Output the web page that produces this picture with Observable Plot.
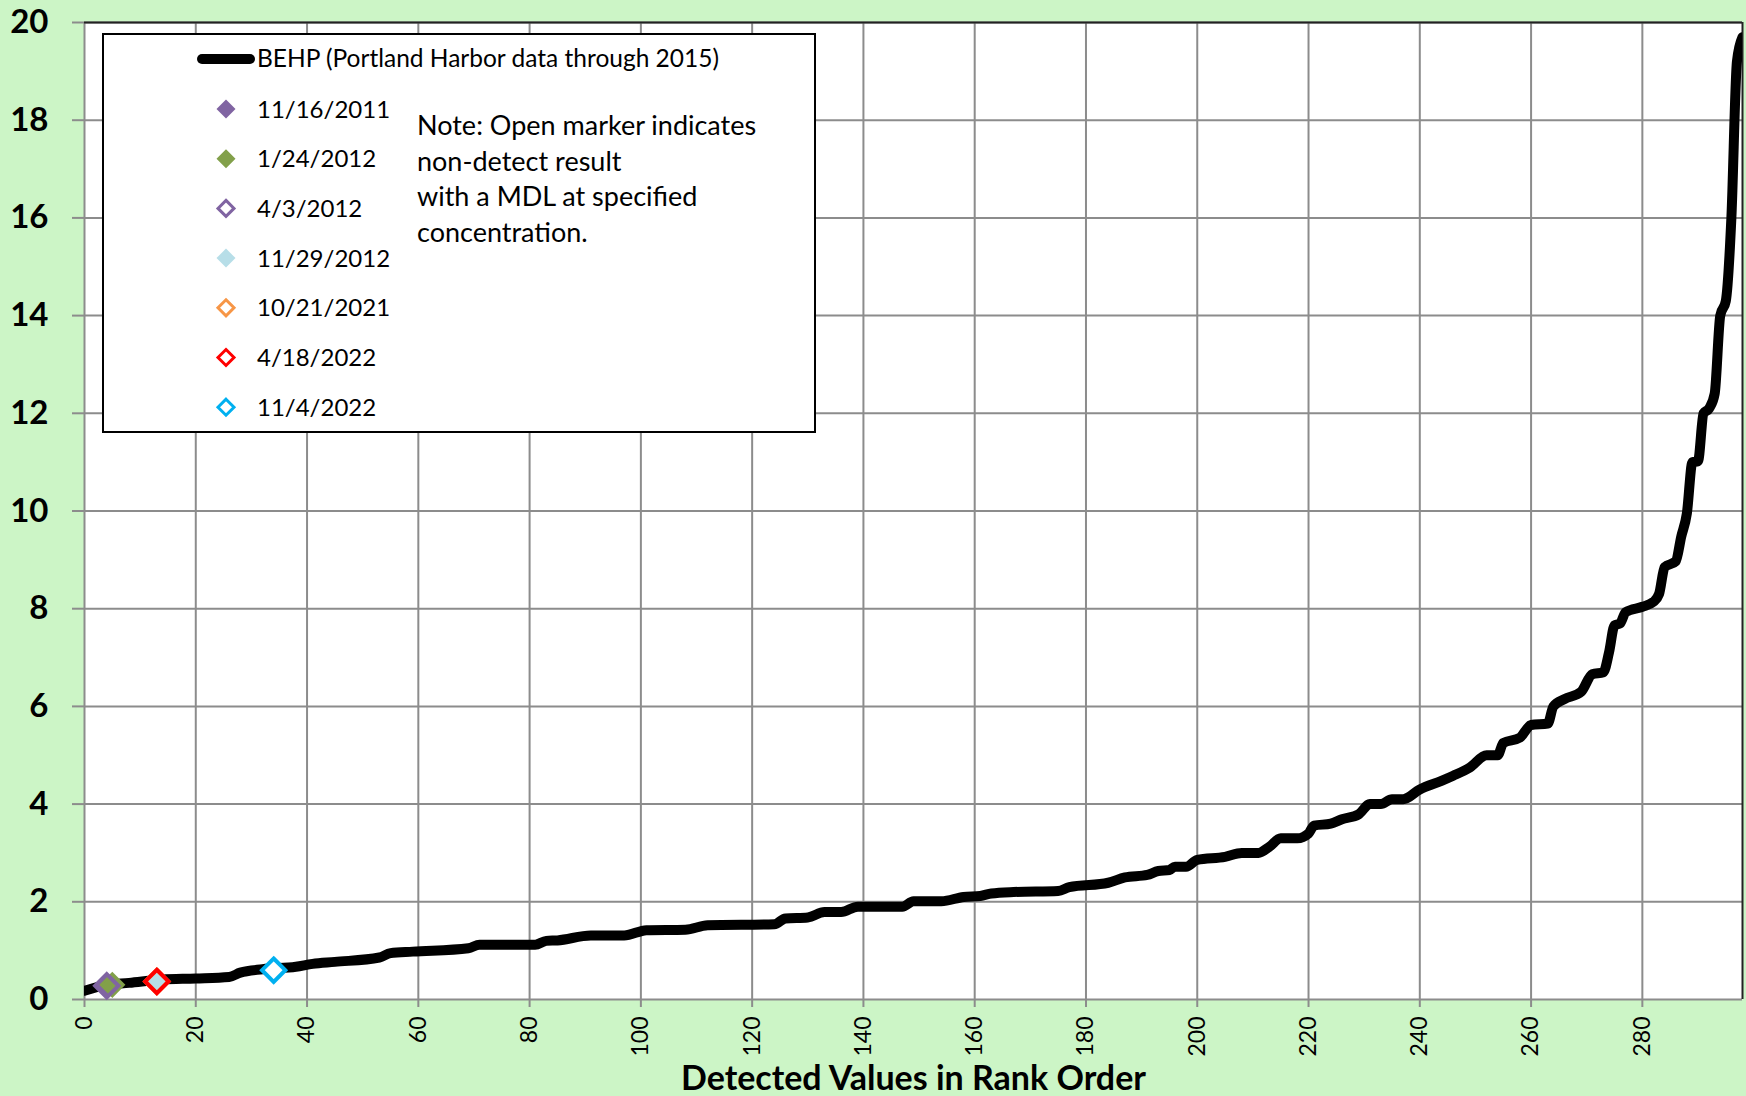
<!DOCTYPE html>
<html><head><meta charset="utf-8">
<script src="https://cdn.jsdelivr.net/npm/d3@7"></script>
<script src="https://cdn.jsdelivr.net/npm/@observablehq/plot@0.6"></script>
<style>
html,body{margin:0;padding:0;background:#ccf5c6;}
#chart{position:relative;width:1746px;height:1096px;}
</style></head><body><div id="chart"></div>
<script>
// BEHP curve (rank order)
const ranks = [0,4,8,14,20,26,28,32,38,41,45,53,55,59,69,71,81,83,85,91,97,101,108,112,124,126,130,133,136,139,147,149,154,158,161,163,167,175,177,184,187,191,193,195,196,198,200,205,208,211,213,215,218,220,221,224,226,229,231,233,235,237,240,244,246,249,252,254,255,258,260,263,264,266,269,271,273,274,275,276,277,280,282,283,284,286,287,288,289,290,291,292,293,294,295,296,297,298];
const values = [0.18,0.30,0.34,0.41,0.43,0.46,0.55,0.62,0.67,0.73,0.77,0.86,0.95,0.98,1.05,1.12,1.12,1.20,1.21,1.31,1.31,1.42,1.43,1.52,1.54,1.66,1.68,1.79,1.79,1.90,1.90,2.01,2.01,2.10,2.12,2.17,2.20,2.22,2.30,2.39,2.50,2.55,2.63,2.65,2.72,2.72,2.86,2.92,3.00,3.00,3.13,3.30,3.30,3.40,3.56,3.60,3.69,3.79,4.00,4.00,4.10,4.10,4.30,4.48,4.58,4.75,5.00,5.00,5.25,5.36,5.62,5.65,6.00,6.15,6.30,6.66,6.70,7.10,7.66,7.70,7.93,8.04,8.14,8.30,8.85,8.97,9.48,9.95,11.00,11.02,12.00,12.10,12.40,14.00,14.30,16.00,19.20,19.70];

const xTicks = [0,20,40,60,80,100,120,140,160,180,200,220,240,260,280];
const yTicks = [0,2,4,6,8,10,12,14,16,18,20];
const xMax = 298;
const yMax = 20;

const seriesLabel = "BEHP (Portland Harbor data through 2015)";
const sampleDates  = ["11/16/2011","1/24/2012","4/3/2012","11/29/2012","10/21/2021","4/18/2022","11/4/2022"];
const sampleColors = ["#8064A2","#82A04A","#8064A2","#B7DEE8","#F79646","#FF0000","#00B0F0"];
const sampleOpen   = [false,false,true,false,true,true,true];
const sampleRanks  = [4,5,4,13,13,13,34];
const sampleValues = [0.28,0.30,0.28,0.37,0.37,0.37,0.60];

const noteLines = ["Note: Open marker indicates","non-detect result","with a MDL at specified","concentration."];
const xTitle = "Detected Values in Rank Order";

const curve = ranks.map((r,i)=>({rank:r, value:values[i]}));
const samples = sampleDates.map((d,i)=>({date:d, color:sampleColors[i], open:sampleOpen[i], rank:sampleRanks[i], value:sampleValues[i]}));
const openS = samples.filter(d=>d.open);
const fillS = samples.filter(d=>!d.open);

const FONT = "Lato, 'Open Sans', sans-serif";
const grid = "#8c8c8c";

const plot = Plot.plot({
  width: 1746, height: 1096,
  marginLeft: 84, marginRight: 4, marginTop: 22, marginBottom: 97,
  style: {background: "#ccf5c6", fontFamily: FONT, color: "#000", overflow: "visible"},
  x: {domain: [0, xMax], label: null},
  y: {domain: [0, yMax], label: null},
  color: {type: "identity"},
  marks: [
    Plot.frame({fill: "white", stroke: "none"}),
    Plot.gridX(xTicks, {stroke: grid, strokeOpacity: 1, strokeWidth: 2}),
    Plot.gridY(yTicks, {stroke: grid, strokeOpacity: 1, strokeWidth: 2}),
    Plot.ruleY([yMax], {stroke: "#222", strokeWidth: 2}),
    Plot.ruleX([xMax], {stroke: "#222", strokeWidth: 2}),
    Plot.axisY(yTicks, {tickSize: 12, tickPadding: 24, stroke: grid, strokeWidth: 2, fontSize: 33, fontWeight: "bold", fill: "#000", tickFormat: d => String(d), label: null}),
    Plot.axisX(xTicks, {tickSize: 8, tickPadding: 9, tickRotate: -90, stroke: grid, strokeWidth: 2, fontSize: 23, fill: "#000", tickFormat: d => String(d), label: null}),
    Plot.text([xTitle], {frameAnchor: "bottom", dy: 80, lineAnchor: "middle", fontSize: 34, fontWeight: "bold", fill: "#000"}),
    Plot.line(curve, {x: "rank", y: "value", stroke: "#000", strokeWidth: 10, curve: "monotone-x", strokeLinejoin: "round", strokeLinecap: "round", clip: true}),
    Plot.dot(openS, {x: "rank", y: "value", symbol: "diamond2", r: 10.5, fill: "white", stroke: "none"}),
    Plot.dot(fillS, {x: "rank", y: "value", symbol: "diamond2", r: 10.5, fill: "color", stroke: "color", strokeWidth: 2}),
    Plot.dot(openS, {x: "rank", y: "value", symbol: "diamond2", r: 10.5, fill: "none", stroke: "color", strokeWidth: 4})
  ]
});
document.getElementById("chart").appendChild(plot);

// Legend box (inside plot area, top-left)
const svg = d3.select(plot);
const lg = svg.append("g").attr("font-family", FONT).attr("text-anchor", "start");
lg.append("rect").attr("x", 103).attr("y", 34).attr("width", 712).attr("height", 398)
  .attr("fill", "white").attr("stroke", "#000").attr("stroke-width", 2);
lg.append("line").attr("x1", 202).attr("x2", 250).attr("y1", 59).attr("y2", 59)
  .attr("stroke", "#000").attr("stroke-width", 10).attr("stroke-linecap", "round");
lg.append("text").attr("x", 257).attr("y", 67).attr("font-size", 24.5).attr("fill", "#000").attr("text-anchor", "start").text(seriesLabel);
samples.forEach((d, i) => {
  const cy = 109 + i * 49.7, cx = 226;
  const h = d.open ? 8 : 9.5;
  lg.append("polygon")
    .attr("points", `${cx},${cy-h} ${cx+h},${cy} ${cx},${cy+h} ${cx-h},${cy}`)
    .attr("fill", d.open ? "white" : d.color)
    .attr("stroke", d.open ? d.color : "none")
    .attr("stroke-width", d.open ? 3 : 0);
  lg.append("text").attr("x", 257).attr("y", cy + 8.5).attr("font-size", 24).attr("fill", "#000").attr("text-anchor", "start").text(d.date);
});
noteLines.forEach((t, i) => {
  lg.append("text").attr("x", 417).attr("y", 135 + i * 35.6).attr("font-size", 27).attr("fill", "#000").attr("text-anchor", "start").text(t);
});
</script></body></html>
